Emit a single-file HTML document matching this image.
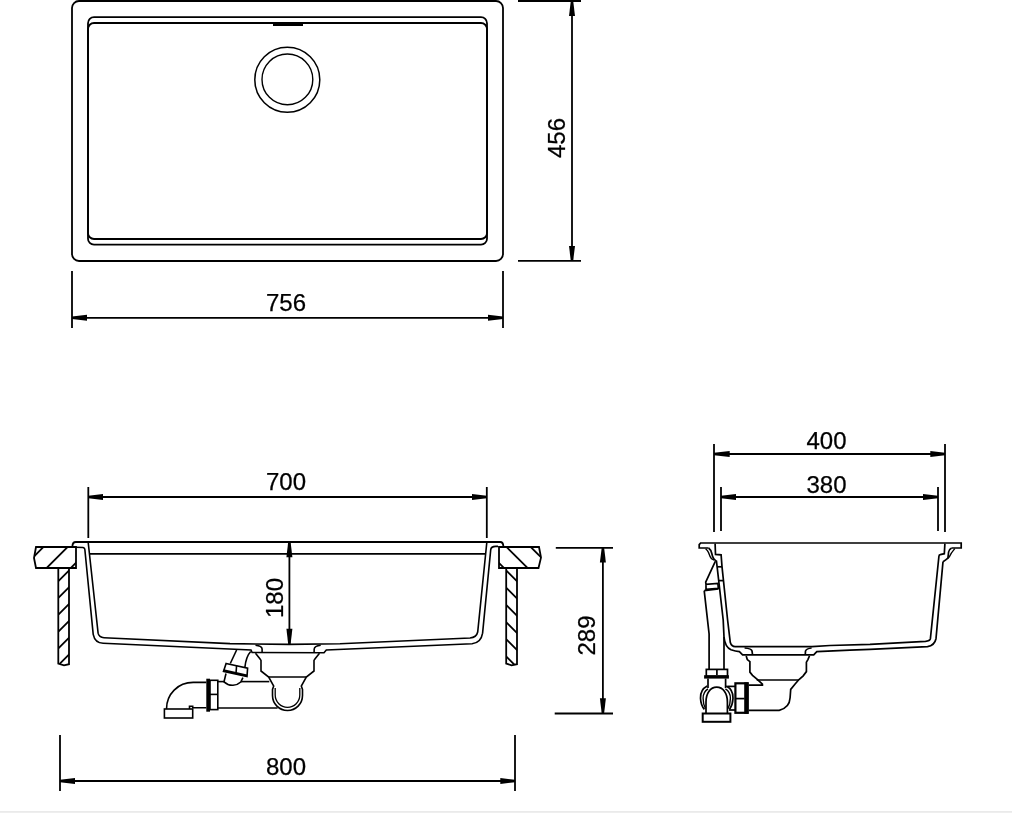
<!DOCTYPE html>
<html><head><meta charset="utf-8">
<style>
html,body{margin:0;padding:0;background:#fff;width:1012px;height:813px;overflow:hidden}
svg{display:block}
text{font-family:"Liberation Sans",sans-serif;font-size:24px;fill:#000;stroke:#000;stroke-width:0.25}
svg{will-change:transform}
</style></head>
<body>
<svg width="1012" height="813" viewBox="0 0 1012 813">
<defs>
<clipPath id="clL"><path d="M36,547 L76,547 L76,568 L36,568 L34,558 Z"/></clipPath>
<clipPath id="clLP"><path d="M58.3,568 L58.3,663.6 L64,665.3 L69,664.2 L69,568 Z"/></clipPath>
<clipPath id="clR"><path d="M499,547 L539,547 L541,557.6 L538.5,568 L499,568 Z"/></clipPath>
<clipPath id="clRP"><path d="M506.2,568 L506.2,663.6 L511.5,665.3 L517,664.2 L517,568 Z"/></clipPath>
</defs>
<rect x="0" y="811" width="1012" height="1" fill="#eaeaea"/><rect x="0" y="812" width="1012" height="1" fill="#eeeeee"/>
<g fill="none" stroke="#000" stroke-width="1.8">
<!-- TOP VIEW -->
<rect x="72" y="1" width="431" height="260" rx="7"/>
<rect x="88" y="17.2" width="399" height="221.8" rx="6"/>
<rect x="88" y="23" width="399" height="221.7" rx="6"/>
<circle cx="287.3" cy="79.8" r="32.5" stroke-width="1.5"/>
<circle cx="287.4" cy="79.4" r="25.4" stroke-width="1.4"/>
<!-- dim 456 -->
<line x1="518" y1="1" x2="581" y2="1"/>
<line x1="518" y1="260.8" x2="581" y2="260.8"/>
<line x1="572" y1="1" x2="572" y2="261"/>
<!-- dim 756 -->
<line x1="72" y1="271" x2="72" y2="328"/>
<line x1="503" y1="271" x2="503" y2="328"/>
<line x1="72" y1="317.8" x2="503" y2="317.8"/>
</g>
<g fill="#000" stroke="none">
<rect x="273" y="23" width="30" height="3"/>
</g>
<text x="286" y="311" text-anchor="middle">756</text>
<text transform="translate(564.5,138) rotate(-90)" text-anchor="middle">456</text>

<g fill="#000" stroke="none">
<polygon points="570.8,1.0 569.0,16.0 575.0,16.0 573.2,1.0"/>
<polygon points="570.8,260.8 569.0,246.0 575.0,246.0 573.2,260.8"/>
<polygon points="72.0,316.6 87.0,314.8 87.0,320.8 72.0,319.0"/>
<polygon points="503.0,316.6 488.0,314.8 488.0,320.8 503.0,319.0"/>
<polygon points="88.3,495.8 103.0,494.0 103.0,500.0 88.3,498.2"/>
<polygon points="486.8,495.8 472.0,494.0 472.0,500.0 486.8,498.2"/>
<polygon points="288.2,542.0 286.4,557.3 292.4,557.3 290.6,542.0"/>
<polygon points="288.2,644.3 286.4,628.8 292.4,628.8 290.6,644.3"/>
<polygon points="601.7,547.8 599.9,562.4 605.9,562.4 604.1,547.8"/>
<polygon points="601.7,713.5 599.9,698.3 605.9,698.3 604.1,713.5"/>
<polygon points="60.0,779.8 75.0,778.0 75.0,784.0 60.0,782.2"/>
<polygon points="515.0,779.8 500.3,778.0 500.3,784.0 515.0,782.2"/>
<polygon points="714.0,452.8 729.7,451.0 729.7,457.0 714.0,455.2"/>
<polygon points="945.0,452.8 930.3,451.0 930.3,457.0 945.0,455.2"/>
<polygon points="721.0,495.8 736.0,494.0 736.0,500.0 721.0,498.2"/>
<polygon points="938.0,495.8 923.0,494.0 923.0,500.0 938.0,498.2"/>
</g>
<!-- FRONT VIEW -->
<g fill="none" stroke="#000" stroke-width="1.8">
<!-- dim 700 -->
<line x1="88.3" y1="487" x2="88.3" y2="538"/>
<line x1="486.8" y1="487" x2="486.8" y2="538"/>
<line x1="88.3" y1="497" x2="486.8" y2="497"/>
<!-- rim -->
<path d="M72.4,546.5 Q72.5,542 75.8,542 L500.2,542 Q503.2,542 503.4,546.5"/>
<line x1="90" y1="553.8" x2="485.5" y2="553.8"/>
<!-- left wall outer -->
<path d="M76,547.2 L83,547.5 Q85,548 84.9,550 L93.2,634.3 Q95,643 103.1,643.2 L251,650 L252.1,652.5 L324,652.7 L326.3,650 L472.1,643.7 Q481,643 482.6,633.2 L490.7,549.8 Q491,546.5 495.8,546.4 L498,546.4" stroke-width="1.6"/>
<!-- inner wall -->
<path d="M88.2,542.5 L98.1,633.2 Q99,637.5 104,637.8 L230,643.6 L289,644.4 L340,643.8 L470,638 Q476.5,637.5 477.7,632 L486.8,542.5" stroke-width="1.6"/>
<!-- countertop left -->
<path d="M36,547 L76,547 L76,568 L36,568 L34,558 Z"/>
<path d="M58.3,568 L58.3,663.6 L64,665.3 L69,664.2 L69,568"/>
<g clip-path="url(#clL)" stroke-width="1.8"><line x1="20" y1="546.0" x2="90" y2="476.0"/><line x1="20" y1="570.4" x2="90" y2="500.4"/><line x1="20" y1="594.6" x2="90" y2="524.6"/><line x1="20" y1="618.8" x2="90" y2="548.8"/></g><g clip-path="url(#clLP)" stroke-width="1.8"><line x1="50" y1="572.7" x2="80" y2="542.7"/><line x1="50" y1="589.5" x2="80" y2="559.5"/><line x1="50" y1="606.3" x2="80" y2="576.3"/><line x1="50" y1="623.1" x2="80" y2="593.1"/><line x1="50" y1="639.9" x2="80" y2="609.9"/><line x1="50" y1="656.7" x2="80" y2="626.7"/><line x1="50" y1="673.5" x2="80" y2="643.5"/></g><g clip-path="url(#clR)" stroke-width="1.8"><line x1="490" y1="482" x2="550" y2="542"/><line x1="490" y1="506.3" x2="550" y2="566.3"/><line x1="490" y1="530.4" x2="550" y2="590.4"/><line x1="490" y1="554.0" x2="550" y2="614.0"/></g><g clip-path="url(#clRP)" stroke-width="1.8"><line x1="495" y1="542.1" x2="530" y2="577.1"/><line x1="495" y1="559.3" x2="530" y2="594.3"/><line x1="495" y1="576.5" x2="530" y2="611.5"/><line x1="495" y1="593.7" x2="530" y2="628.7"/><line x1="495" y1="610.9" x2="530" y2="645.9"/><line x1="495" y1="628.1" x2="530" y2="663.1"/><line x1="495" y1="645.3" x2="530" y2="680.3"/></g>
<!-- countertop right -->
<path d="M499,547 L539,547 L541,557.6 L538.5,568 L499,568 Z"/>
<path d="M506.2,568 L506.2,663.6 L511.5,665.3 L517,664.2 L517,568"/>
<!-- drain front -->
<g stroke-width="1.6">
<path d="M255.5,645.3 Q262,646 262.1,649 L262.1,652.3"/>
<path d="M314.1,652.3 L314.2,649 Q314.5,646 320.7,645.3"/>
<path d="M255.5,653.2 L259.9,658.8 L261,660.4 L261,671 L268.7,677 L273.7,686 L272.5,689.5 L272.5,695.5 A15,15 0 0 0 302.5,695.5 L302.5,689.5 L301.3,686 L306.3,677 L314,671 L314,660.4 L315.1,658.8 L319.5,653.2"/>
<path d="M275.2,688 L275.2,695 A12.3,12.3 0 0 0 299.8,695 L299.8,688" stroke-width="1.3"/>
<line x1="268.7" y1="677" x2="306.3" y2="677"/>
<!-- horizontal pipe -->
<line x1="217.8" y1="681.6" x2="224.5" y2="681.6"/>
<line x1="240.8" y1="681.6" x2="269.3" y2="681.6"/>
<line x1="217.8" y1="708" x2="277.6" y2="708"/>
<rect x="210" y="680.3" width="7.8" height="29.3"/>
<line x1="210" y1="694.4" x2="217.8" y2="694.4"/>
<!-- elbow -->
<path d="M206.3,682.4 L193.2,682.4 C178,682.4 166.5,694 166.5,709"/>
<path d="M206.3,707.7 L192.7,707.7 L192.7,706.3 L189.5,706.3 L189.5,709"/>
<rect x="164.4" y="709" width="28.3" height="9"/>
<!-- overflow -->
<line x1="236.6" y1="650" x2="230.3" y2="663.5"/>
<path d="M250.7,651.5 Q246,656.5 244.8,667.8"/>
<path d="M226.1,663.5 L247.6,668.2 L247,676.6 L223.5,671.4 Z"/>
<line x1="236.6" y1="665.5" x2="236" y2="673.5"/>
<path d="M226,673.5 L224,681.8 Q228,685.5 233,685.2 Q238,684.8 240.8,682 L242.9,677.7"/>
</g>
<!-- dim 180 -->
<line x1="289.4" y1="542" x2="289.4" y2="644"/>
<!-- dim 289 -->
<line x1="555.8" y1="547.8" x2="613" y2="547.8"/>
<line x1="554.7" y1="713.5" x2="613" y2="713.5"/>
<line x1="602.9" y1="547.8" x2="602.9" y2="713.5"/>
<!-- dim 800 -->
<line x1="60" y1="735" x2="60" y2="791"/>
<line x1="515" y1="735" x2="515" y2="791"/>
<line x1="60" y1="781" x2="515" y2="781"/>
</g>
<g fill="#000" stroke="none">
<rect x="206.3" y="678.7" width="3.7" height="33"/>
<polygon points="223.5,671.4 247,676.6 247.2,674.4 223.8,669.3"/>
</g>
<text x="286" y="490" text-anchor="middle">700</text>
<text transform="translate(283,598) rotate(-90)" text-anchor="middle">180</text>
<text transform="translate(595,635.5) rotate(-90)" text-anchor="middle">289</text>
<text x="286" y="775" text-anchor="middle">800</text>

<!-- SIDE VIEW -->
<g fill="none" stroke="#000" stroke-width="1.8">
<line x1="714" y1="444" x2="714" y2="532"/>
<line x1="945" y1="444" x2="945" y2="532"/>
<line x1="714" y1="454" x2="945" y2="454"/>
<line x1="721" y1="487" x2="721" y2="531"/>
<line x1="938" y1="487" x2="938" y2="531"/>
<line x1="721" y1="497" x2="938" y2="497"/>
<g stroke-width="1.7">
<path d="M708.6,548 L699.2,548 L699.2,544.6 L700.6,543 L961.2,543 L961.2,548 L951.6,548"/>
<path d="M708.6,548 Q711.2,550 711.8,553.5 Q712.5,557.5 714,559 L716.4,561.3"/>
<path d="M705.6,548.8 Q707.8,550.5 708.5,552.5 Q710,557 711.5,558.7 L714.2,560.2" stroke-width="1.4"/>
<path d="M951.6,548 Q948.8,549.5 948.6,552 L947.9,558.2 Q946,560 943,561.7"/>
<path d="M954.8,548.6 Q951,553 949.5,556.5 L947.9,558.2" stroke-width="1.4"/>
<!-- inner wall -->
<path d="M715.1,543.6 L715.5,554.4 L721.1,554.8 L722,566.6 L727.6,620 L730.3,642.5 Q731.5,646.5 735.2,646.7 L812,646.6 L830,645.5 L870,644.3 L925.5,641.3 Q929.8,640.8 930.4,638.7 L938.9,556.5 Q939,554.8 940.2,554.6 L944.3,553.7 L944.9,543.6"/>
<!-- outer wall -->
<path d="M716.4,560.7 L717.1,566.6 L723.2,620 L724,637 Q725,647 731,649.8 Q735.5,651.5 739.4,651.7 L742.6,654.9 L813.7,654.9 L816.8,651.7 L850,650.2 L870,649.3 L927.5,646.6 Q934.5,645.5 936,638.7 L943,561.7"/>
<line x1="717.3" y1="566.8" x2="722.1" y2="566.8"/>
<line x1="718.8" y1="580.6" x2="723.2" y2="580.6"/>
<!-- overflow triangle -->
<path d="M715.3,561.4 L705.7,582.1 L706,584.3 L717.9,583.5 L718.3,588.3 L706,589.4 L706,584.3"/>
<path d="M704.2,590.6 L718.5,588.8"/>
<path d="M704.2,590.6 L709.1,634 L709.1,669.4"/>
<line x1="724" y1="637" x2="724" y2="669.4"/>
<!-- overflow nut -->
<rect x="706.3" y="669.4" width="21.2" height="7"/>
<line x1="716.9" y1="669.4" x2="716.9" y2="675"/>
<line x1="708" y1="678.5" x2="708" y2="688"/>
<line x1="725.6" y1="678.5" x2="725.6" y2="688"/>
<!-- trap -->
<path d="M707.2,686 C701.5,689 700.3,694 700.5,698.2 C700.7,703 702,706.5 704.4,709.4"/>
<path d="M708,688.8 C704.5,691 703.1,694.5 703.1,698.2 C703.1,702 703.8,705.5 705.5,708.6" stroke-width="1.4"/>
<path d="M726.2,686 C732,689 733.2,694 733,698.2 C732.8,703 731.5,706.5 729.5,709.4"/>
<path d="M725.4,688.8 C729,691 730.4,694.5 730.4,698.2 C730.4,702 729.7,705.5 728,708.6" stroke-width="1.4"/>
<path d="M706,713.3 L706,702 C706,693 710.5,687.1 716.7,687.1 C723,687.1 727.4,693 727.4,702 L727.4,713.3"/>
<rect x="702.7" y="713.5" width="27.7" height="8.3" stroke-width="2"/>
<!-- drain side -->
<path d="M744.6,648 Q751.5,648.5 752,651 L752.5,654.4"/>
<path d="M805.3,654.4 L805.5,651 Q806.5,648.5 811.6,648"/>
<path d="M746.2,655.9 L747.3,659.6 L749.9,661.7 L749.9,672.1 L752.5,675.3 L756.7,678.9 L762.4,684.2 L762.4,685.2 L748.8,685.2"/>
<path d="M809.5,655.9 L807.9,659.6 L806.4,662.2 L806.4,671.6 L803.2,675.8 L799,679.5 L794.9,684.2 L790.7,689.4 L790.1,697.8 Q789.5,708 779.2,710.3 L748.8,710.3"/>
<line x1="756.7" y1="680" x2="799" y2="680"/>
<rect x="735.4" y="683.3" width="12.2" height="29.5" stroke-width="2.2"/>
<line x1="735.4" y1="698.6" x2="744.5" y2="698.6"/>
<line x1="727.4" y1="686.4" x2="735" y2="686.4"/>
<line x1="729" y1="710" x2="735" y2="710"/>
</g>
</g>
<g fill="#000" stroke="none">
<rect x="704.1" y="675.2" width="24.8" height="3.4"/>
<rect x="744.2" y="682.3" width="4.4" height="31.5"/>
</g>
<text x="826.5" y="449" text-anchor="middle">400</text>
<text x="826.5" y="493" text-anchor="middle">380</text>
</svg>
</body></html>
